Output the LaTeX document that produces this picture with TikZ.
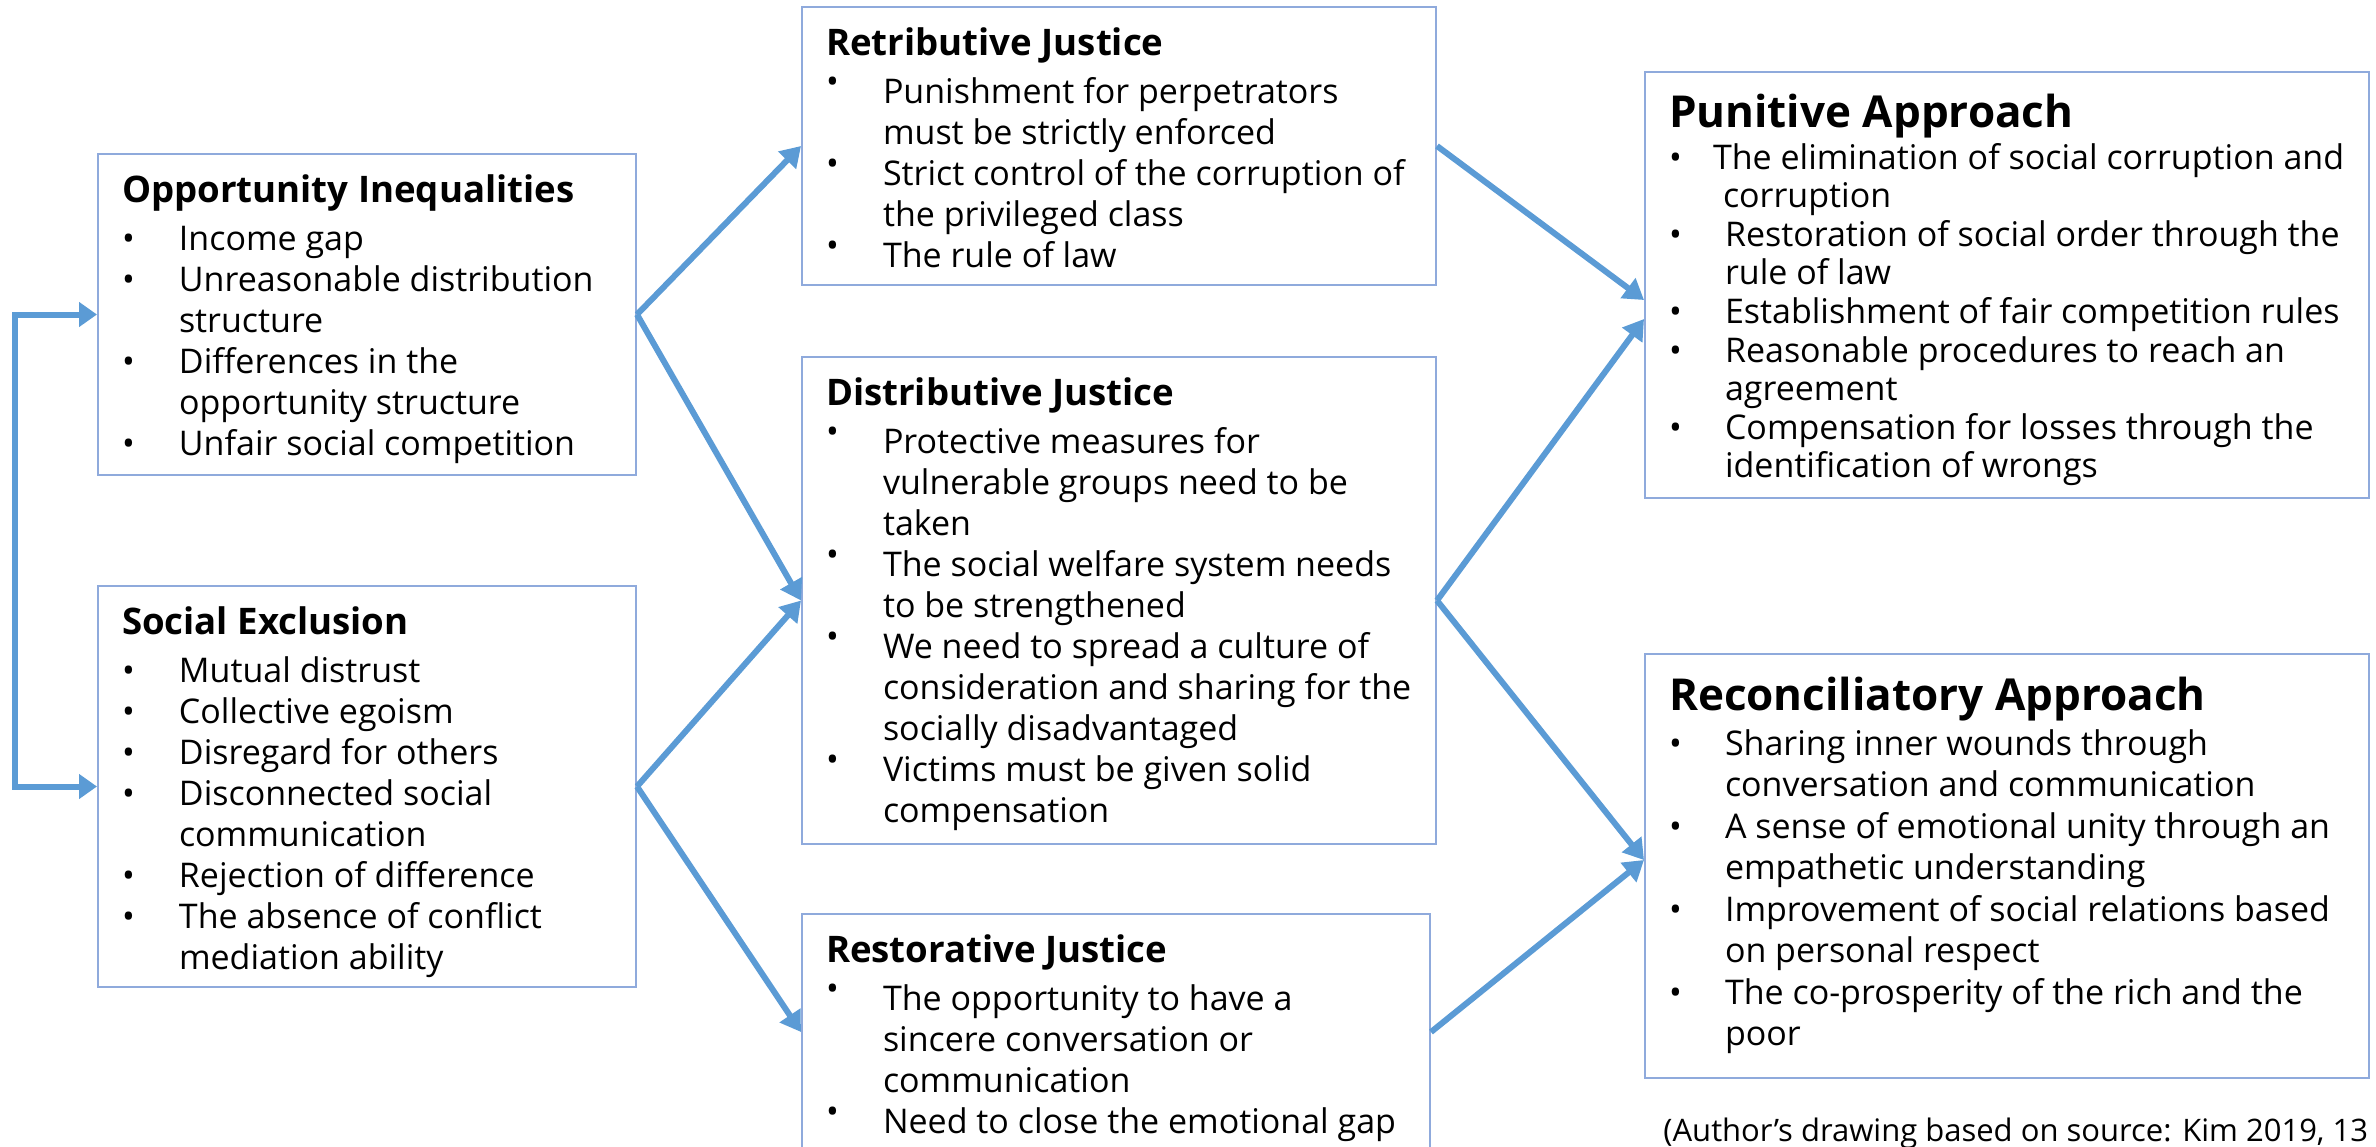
\documentclass[tikz,border=0pt]{standalone}
\usepackage{fontspec}
\setmainfont{Open Sans}
\usetikzlibrary{arrows.meta,calc,positioning}
\definecolor{panelblue}{RGB}{143,170,220}
\definecolor{linkblue}{RGB}{91,155,213}
\newcommand{\boxtitle}[1]{{\fontsize{18.3}{20.5}\selectfont\bfseries\rule{0pt}{14pt}\mbox{#1}}}
\newcommand{\apptitle}[1]{{\fontsize{22}{24}\selectfont\bfseries\rule{0pt}{17pt}\mbox{#1}}}
\newcommand{\itembul}[2][28.5pt]{\makebox[#1][l]{\textbullet}\mbox{#2}}
\newcommand{\itemup}[1]{\makebox[28.5pt][l]{\raisebox{5pt}{\textbullet}}\mbox{#1}}
\newcommand{\itemcont}[2][28.5pt]{\hspace*{#1}\mbox{#2}}

\begin{document}
\begin{tikzpicture}[x=0.5pt,y=-0.5pt,
  every node/.style={font=\fontsize{17}{20.5}\selectfont},
  panel/.style={draw=panelblue,line width=1pt,inner xsep=12pt,inner ysep=0pt,anchor=north west},
  link/.style={draw=linkblue,line width=3pt,-{Triangle[length=10pt,width=12pt]}}]
\useasboundingbox (0,0) rectangle (2376,1146);
\clip (0,0) rectangle (2376,1146);

\node [panel] (Opportunity) at (97,153) {\parbox[c][160.5pt][t]{245pt}{\vspace*{10pt}%
\boxtitle{Opportunity Inequalities}\\[3.5pt]
\itembul{Income gap}\\
\itembul{Unreasonable distribution}\\
\itemcont{structure}\\
\itembul{Differences in the}\\
\itemcont{opportunity structure}\\
\itembul{Unfair social competition}}};
\node [panel] (Exclusion) at (97,585) {\parbox[c][200.5pt][t]{245pt}{\vspace*{10pt}%
\boxtitle{Social Exclusion}\\[3.5pt]
\itembul{Mutual distrust}\\
\itembul{Collective egoism}\\
\itembul{Disregard for others}\\
\itembul{Disconnected social}\\
\itemcont{communication}\\
\itembul{Rejection of difference}\\
\itembul{The absence of conflict}\\
\itemcont{mediation ability}}};

\node [panel] (Retributive) at (801,6) {\parbox[c][139pt][t]{293pt}{\vspace*{10pt}%
\boxtitle{Retributive Justice}\\[3.5pt]
\itemup{Punishment for perpetrators}\\
\itemcont{must be strictly enforced}\\
\itemup{Strict control of the corruption of}\\
\itemcont{the privileged class}\\
\itemup{The rule of law}}};
\node [panel] (Distributive) at (801,356) {\parbox[c][243.5pt][t]{293pt}{\vspace*{10pt}%
\boxtitle{Distributive Justice}\\[3.5pt]
\itemup{Protective measures for}\\
\itemcont{vulnerable groups need to be}\\
\itemcont{taken}\\
\itemup{The social welfare system needs}\\
\itemcont{to be strengthened}\\
\itemup{We need to spread a culture of}\\
\itemcont{consideration and sharing for the}\\
\itemcont{socially disadvantaged}\\
\itemup{Victims must be given solid}\\
\itemcont{compensation}}};
\node [panel] (Restorative) at (801,913) {\parbox[c][118pt][t]{290pt}{\vspace*{10pt}%
\boxtitle{Restorative Justice}\\[3.5pt]
\itemup{The opportunity to have a}\\
\itemcont{sincere conversation or}\\
\itemcont{communication}\\
\itemup{Need to close the emotional gap}}};

\node [panel,font=\fontsize{17}{19.3}\selectfont] (Punitive) at (1644,71) {\parbox[c][213pt][t]{338pt}{\vspace*{10.5pt}%
\apptitle{Punitive Approach}\\[1.7pt]
\itembul[22pt]{The elimination of social corruption and}\\
\itemcont[27pt]{corruption}\\
\itembul[28pt]{Restoration of social order through the}\\
\itemcont[28pt]{rule of law}\\
\itembul[28pt]{Establishment of fair competition rules}\\
\itembul[28pt]{Reasonable procedures to reach an}\\
\itemcont[28pt]{agreement}\\
\itembul[28pt]{Compensation for losses through the}\\
\itemcont[28pt]{identification of wrongs}}};
\node [panel,font=\fontsize{17}{20.75}\selectfont] (Reconciliatory) at (1644,653) {\parbox[c][212pt][t]{338pt}{\vspace*{11pt}%
\apptitle{Reconciliatory Approach}\\[1.75pt]
\itembul[28pt]{Sharing inner wounds through}\\
\itemcont[28pt]{conversation and communication}\\
\itembul[28pt]{A sense of emotional unity through an}\\
\itemcont[28pt]{empathetic understanding}\\
\itembul[28pt]{Improvement of social relations based}\\
\itemcont[28pt]{on personal respect}\\
\itembul[28pt]{The co-prosperity of the rich and the}\\
\itemcont[28pt]{poor}}};

\node [anchor=base west,inner sep=0pt,font=\fontsize{15.5}{18}\selectfont] (Source) at (1663,1141) {(Author’s drawing based on source: Kim 2019, 13};

\coordinate (LoopCorner) at (15,0);
\draw [link,{Triangle[length=9pt,width=12pt]}-{Triangle[length=9pt,width=12pt]}] (Opportunity.west) -- (Opportunity.west -| LoopCorner) |- (Exclusion.west);
\draw [link] (Opportunity.east) -- (Retributive.west);
\draw [link] (Opportunity.east) -- (Distributive.west);
\draw [link] (Exclusion.east) -- (Distributive.west);
\draw [link] (Exclusion.east) -- (Restorative.west);
\draw [link] (Retributive.east) -- ($(Punitive.west)+(0,15)$);
\draw [link] (Distributive.east) -- ($(Punitive.west)+(0,34)$);
\draw [link] (Distributive.east) -- ($(Reconciliatory.west)+(0,-6)$);
\draw [link] (Restorative.east) -- ($(Reconciliatory.west)+(0,-6)$);
\end{tikzpicture}
\end{document}
